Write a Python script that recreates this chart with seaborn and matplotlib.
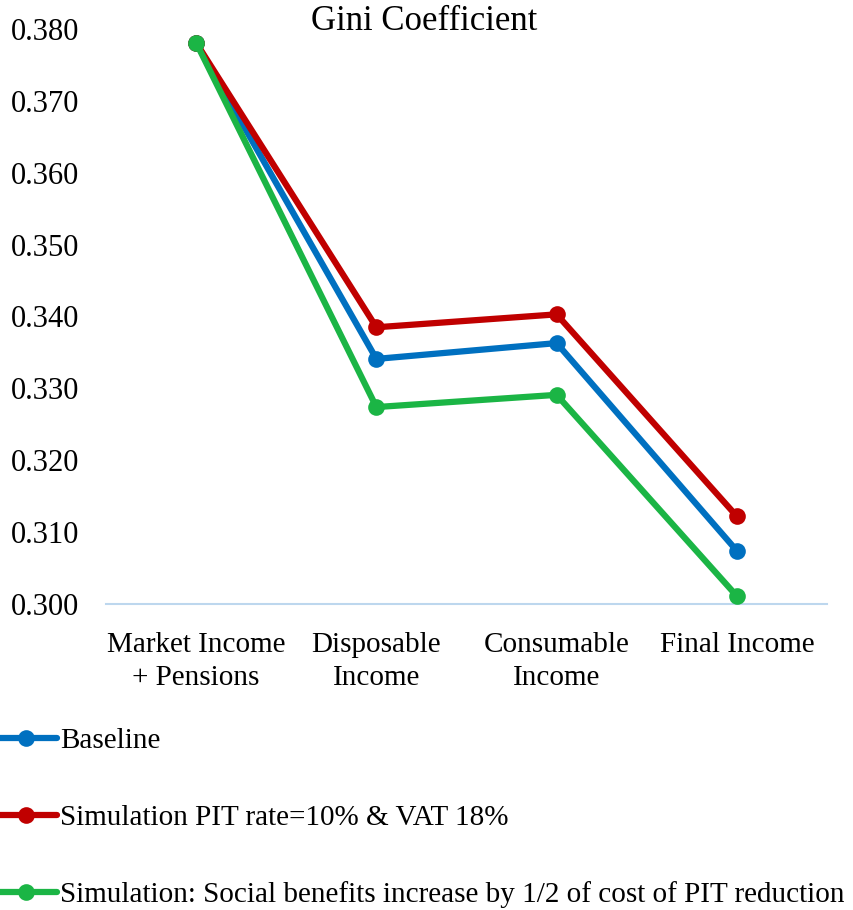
import seaborn as sns
import pandas as pd
import matplotlib.pyplot as plt

stages = ["Market Income\n+ Pensions", "Disposable\nIncome", "Consumable\nIncome", "Final Income"]
baseline = [0.3781, 0.3341, 0.3363, 0.3074]
sim_pit_vat = [0.3781, 0.3385, 0.3403, 0.3122]
sim_benefits = [0.3781, 0.3274, 0.3291, 0.3011]
series_names = ["Baseline",
                "Simulation PIT rate=10% & VAT 18%",
                "Simulation: Social benefits increase by 1/2 of cost of PIT reduction"]
colors = ["#0070C0", "#C00000", "#1BB545"]
yticks = [0.300, 0.310, 0.320, 0.330, 0.340, 0.350, 0.360, 0.370, 0.380]

rows = []
for name, vals in zip(series_names, [baseline, sim_pit_vat, sim_benefits]):
    for i, v in enumerate(vals):
        rows.append({"Stage": i, "Gini": v, "Series": name})
df = pd.DataFrame(rows)

sns.set_style("white")
plt.rcParams["font.family"] = ["Liberation Serif", "DejaVu Serif"]
plt.rcParams["font.size"] = 21
plt.rcParams["text.color"] = "black"

fig = plt.figure(figsize=(8.54, 9.10), dpi=100)
ax = fig.add_axes([106 / 854, 1 - 604 / 910, (827 - 106) / 854, (604 - 29) / 910])
sns.lineplot(data=df, x="Stage", y="Gini", hue="Series", hue_order=series_names,
             palette=colors, marker="o", markersize=12, markeredgewidth=0,
             linewidth=4.5, ax=ax, legend=True)

ax.set_xlim(-0.5, 3.5)
ax.set_ylim(0.300, 0.380)
ax.set_yticks(yticks)
ax.set_yticklabels([f"{t:.3f}" for t in yticks])
ax.set_xticks(range(len(stages)))
ax.set_xticklabels(stages, linespacing=1.35)
ax.set_xlabel("")
ax.set_ylabel("")
ax.tick_params(axis="both", length=0, colors="black")
ax.tick_params(axis="x", pad=20, labelsize=21)
ax.tick_params(axis="y", pad=19, labelsize=22)
for s in ["top", "right", "left"]:
    ax.spines[s].set_visible(False)
ax.spines["bottom"].set_color("#BDD7EE")
ax.spines["bottom"].set_linewidth(1.5)
ax.spines["bottom"].set_zorder(0)
for line in ax.lines:
    line.set_clip_on(False)

handles, labels = ax.get_legend_handles_labels()
ax.get_legend().remove()
fig.legend(handles, labels, loc="upper left", bbox_to_anchor=(-0.005, 1 - 728 / 910),
           frameon=False, fontsize=21, handlelength=2.1, handletextpad=0.1,
           labelspacing=1.72, borderaxespad=0, borderpad=0, labelcolor="black")

fig.text(424 / 854, 1 - 22 / 910, "Gini Coefficient", ha="center", va="center",
         fontsize=25, color="black")

fig.savefig("out.png", dpi=100)
